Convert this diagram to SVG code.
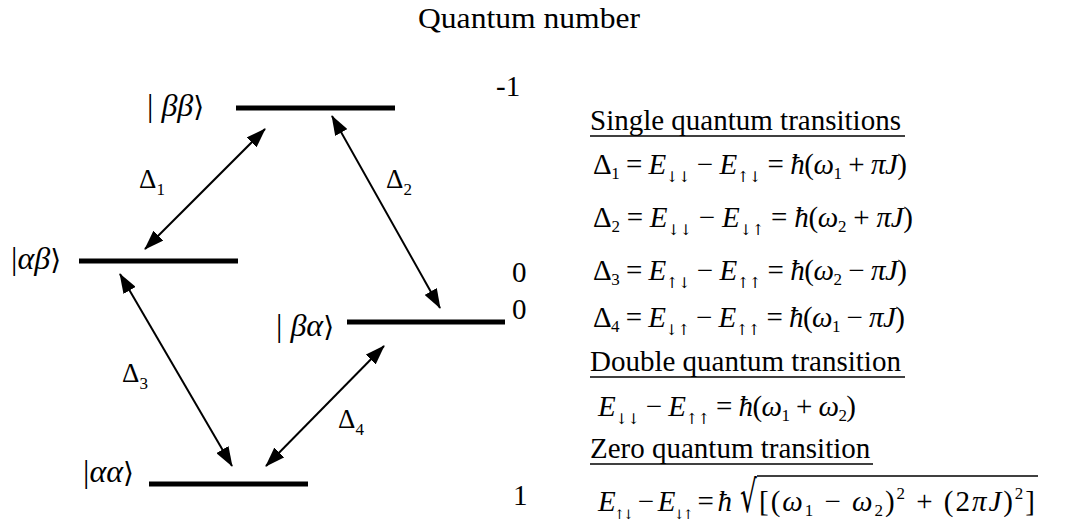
<svg xmlns="http://www.w3.org/2000/svg" width="1068" height="528" viewBox="0 0 1068 528">
<style>
text{font-family:"Liberation Serif","Times New Roman",serif;fill:#000}
.t{font-size:29px}
.eq{font-size:29px}
.it{font-style:italic}
.sub{font-size:17px}
.ar{font-family:"DejaVu Serif","DejaVu Sans",serif;font-size:15px;font-style:normal}
.ar2{font-family:"DejaVu Serif","DejaVu Sans",serif;font-size:13px;font-style:normal}
.ket{font-size:32px}
.br{font-family:"DejaVu Serif","DejaVu Sans",serif;font-style:normal;font-size:28px}
.dl{font-size:27px}
.dls{font-size:17px}
.rad{font-family:"DejaVu Serif","DejaVu Sans",serif;font-size:44px}
.lvl{stroke:#000;stroke-width:5;fill:none}
.arr{stroke:#000;stroke-width:2;fill:none;marker-start:url(#ah);marker-end:url(#ah)}
.ul{stroke:#000;stroke-width:1.5}
</style>
<defs>
<marker id="ah" markerUnits="userSpaceOnUse" markerWidth="20" markerHeight="14" refX="19" refY="7" orient="auto-start-reverse" viewBox="0 0 20 14">
<path d="M0,0 L20,7 L0,14 z" fill="#000"/>
</marker>
</defs>
<text class="t" x="418" y="28" textLength="222" lengthAdjust="spacingAndGlyphs">Quantum number</text>
<g id="quantum-numbers">
<text class="t" x="496" y="96">-1</text>
<text class="t" x="512" y="282">0</text>
<text class="t" x="512" y="319">0</text>
<text class="t" x="513" y="505">1</text>
</g>
<g id="level-bb">
<line class="lvl" x1="236" y1="108" x2="395" y2="108"/>
<text class="ket" x="147" y="116">| <tspan class="it">ββ</tspan><tspan class="br">⟩</tspan></text>
</g>
<g id="level-ab">
<line class="lvl" x1="79" y1="261" x2="238" y2="261"/>
<text class="ket" x="11" y="269">|<tspan class="it">αβ</tspan><tspan class="br">⟩</tspan></text>
</g>
<g id="level-ba">
<line class="lvl" x1="347" y1="322" x2="505" y2="322"/>
<text class="ket" x="276" y="336">| <tspan class="it">βα</tspan><tspan class="br">⟩</tspan></text>
</g>
<g id="level-aa">
<line class="lvl" x1="149" y1="484" x2="308" y2="484"/>
<text class="ket" x="83" y="482">|<tspan class="it">αα</tspan><tspan class="br">⟩</tspan></text>
</g>
<g id="connectors">
<line class="arr" x1="145" y1="249" x2="265" y2="129"/>
<line class="arr" x1="332" y1="116" x2="440" y2="308"/>
<line class="arr" x1="120" y1="274" x2="232" y2="466"/>
<line class="arr" x1="266" y1="466" x2="384" y2="346"/>
</g>
<g id="delta-labels">
<text class="dl" x="139" y="188">Δ<tspan class="dls" dy="7">1</tspan></text>
<text class="dl" x="386" y="188">Δ<tspan class="dls" dy="7">2</tspan></text>
<text class="dl" x="122" y="382">Δ<tspan class="dls" dy="7">3</tspan></text>
<text class="dl" x="338" y="428">Δ<tspan class="dls" dy="7">4</tspan></text>
</g>
<g id="equations">
<text class="t" x="590" y="130">Single quantum transitions</text>
<line class="ul" x1="590" y1="136" x2="905" y2="136"/>
<text class="eq" x="593" y="174" textLength="314" lengthAdjust="spacing">Δ<tspan class="sub" dy="5">1</tspan><tspan dy="-5"> = </tspan><tspan class="it">E</tspan><tspan class="ar" dy="8">↓↓</tspan><tspan dy="-8"> − </tspan><tspan class="it">E</tspan><tspan class="ar" dy="8">↑↓</tspan><tspan dy="-8"> = </tspan><tspan class="it">ħ</tspan>(<tspan class="it">ω</tspan><tspan class="sub" dy="5">1</tspan><tspan dy="-5"> + </tspan><tspan class="it">πJ</tspan>)</text>
<text class="eq" x="593" y="227" textLength="320" lengthAdjust="spacing">Δ<tspan class="sub" dy="5">2</tspan><tspan dy="-5"> = </tspan><tspan class="it">E</tspan><tspan class="ar" dy="8">↓↓</tspan><tspan dy="-8"> − </tspan><tspan class="it">E</tspan><tspan class="ar" dy="8">↓↑</tspan><tspan dy="-8"> = </tspan><tspan class="it">ħ</tspan>(<tspan class="it">ω</tspan><tspan class="sub" dy="5">2</tspan><tspan dy="-5"> + </tspan><tspan class="it">πJ</tspan>)</text>
<text class="eq" x="593" y="280" textLength="314" lengthAdjust="spacing">Δ<tspan class="sub" dy="5">3</tspan><tspan dy="-5"> = </tspan><tspan class="it">E</tspan><tspan class="ar" dy="8">↑↓</tspan><tspan dy="-8"> − </tspan><tspan class="it">E</tspan><tspan class="ar" dy="8">↑↑</tspan><tspan dy="-8"> = </tspan><tspan class="it">ħ</tspan>(<tspan class="it">ω</tspan><tspan class="sub" dy="5">2</tspan><tspan dy="-5"> − </tspan><tspan class="it">πJ</tspan>)</text>
<text class="eq" x="593" y="327" textLength="312" lengthAdjust="spacing">Δ<tspan class="sub" dy="5">4</tspan><tspan dy="-5"> = </tspan><tspan class="it">E</tspan><tspan class="ar" dy="8">↓↑</tspan><tspan dy="-8"> − </tspan><tspan class="it">E</tspan><tspan class="ar" dy="8">↑↑</tspan><tspan dy="-8"> = </tspan><tspan class="it">ħ</tspan>(<tspan class="it">ω</tspan><tspan class="sub" dy="5">1</tspan><tspan dy="-5"> − </tspan><tspan class="it">πJ</tspan>)</text>
<text class="t" x="590" y="371">Double quantum transition</text>
<line class="ul" x1="590" y1="377" x2="905" y2="377"/>
<text class="eq" x="598" y="416" textLength="258" lengthAdjust="spacing"><tspan class="it">E</tspan><tspan class="ar" dy="8">↓↓</tspan><tspan dy="-8"> − </tspan><tspan class="it">E</tspan><tspan class="ar" dy="8">↑↑</tspan><tspan dy="-8"> = </tspan><tspan class="it">ħ</tspan>(<tspan class="it">ω</tspan><tspan class="sub" dy="5">1</tspan><tspan dy="-5"> + </tspan><tspan class="it">ω</tspan><tspan class="sub" dy="5">2</tspan><tspan dy="-5">)</tspan></text>
<text class="t" x="590" y="458">Zero quantum transition</text>
<line class="ul" x1="590" y1="464" x2="873" y2="464"/>
<text class="eq" x="598" y="511" textLength="134" lengthAdjust="spacing"><tspan class="it">E</tspan><tspan class="ar2" dy="8">↑↓</tspan><tspan dy="-8"> − </tspan><tspan class="it">E</tspan><tspan class="ar2" dy="8">↓↑</tspan><tspan dy="-8"> = </tspan><tspan class="it">ħ</tspan></text>
<text class="rad" transform="translate(740,512) scale(0.6,1)" x="0" y="0">√</text>
<line class="ul" x1="757" y1="476" x2="1038" y2="476"/>
<text class="eq" x="759" y="511" textLength="276" lengthAdjust="spacing">[(<tspan class="it">ω</tspan><tspan class="sub" dy="5">1</tspan><tspan dy="-5"> − </tspan><tspan class="it">ω</tspan><tspan class="sub" dy="5">2</tspan><tspan dy="-5">)</tspan><tspan class="sub" dy="-12">2</tspan><tspan dy="12"> + (2</tspan><tspan class="it">πJ</tspan>)<tspan class="sub" dy="-12">2</tspan><tspan dy="12">]</tspan></text>
</g>
</svg>
